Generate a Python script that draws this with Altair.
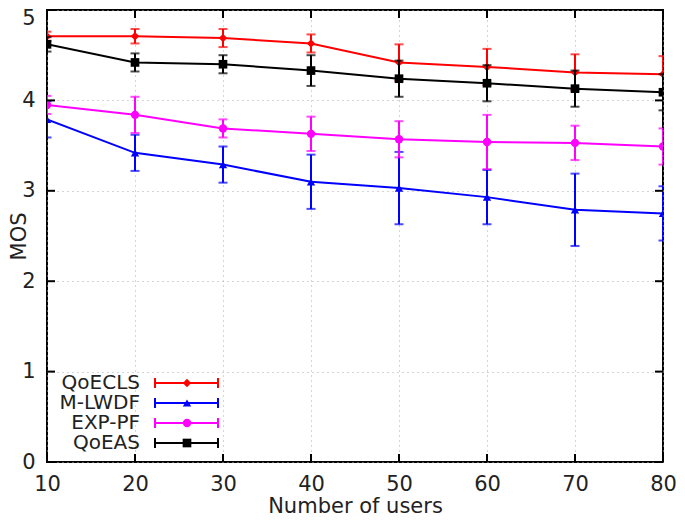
import altair as alt
import pandas as pd

users = [10, 20, 30, 40, 50, 60, 70, 80]
series_names = ["QoECLS", "M-LWDF", "EXP-PF", "QoEAS"]
qoecls = [4.71, 4.71, 4.69, 4.63, 4.42, 4.37, 4.31, 4.29]
qoecls_err = [0.05, 0.08, 0.10, 0.10, 0.20, 0.20, 0.20, 0.20]
mlwdf = [3.79, 3.42, 3.29, 3.10, 3.03, 2.93, 2.79, 2.75]
mlwdf_err = [0.20, 0.20, 0.20, 0.30, 0.40, 0.30, 0.40, 0.30]
exppf = [3.95, 3.84, 3.69, 3.63, 3.57, 3.54, 3.53, 3.49]
exppf_err = [0.10, 0.20, 0.10, 0.19, 0.20, 0.30, 0.19, 0.20]
qoeas = [4.62, 4.42, 4.40, 4.33, 4.24, 4.19, 4.13, 4.09]
qoeas_err = [0.08, 0.10, 0.10, 0.17, 0.20, 0.20, 0.20, 0.20]
x_ticks = [10, 20, 30, 40, 50, 60, 70, 80]
y_ticks = [0, 1, 2, 3, 4, 5]

colors = ["#ff0000", "#0000ff", "#ff00ff", "#000000"]
shapes = ["diamond", "triangle-up", "circle", "square"]
sizes = [70, 70, 70, 75]

W, H = 616, 452
FONT = "DejaVu Sans"
FS = 21

rows = []
for name, vals, errs in [("QoECLS", qoecls, qoecls_err), ("M-LWDF", mlwdf, mlwdf_err),
                         ("EXP-PF", exppf, exppf_err), ("QoEAS", qoeas, qoeas_err)]:
    for u, v, e in zip(users, vals, errs):
        rows.append({"users": u, "mos": v, "lo": v - e, "hi": v + e, "series": name})
df = pd.DataFrame(rows)

xs = alt.Scale(domain=[10, 80], nice=False, zero=False)
ys = alt.Scale(domain=[0, 5], nice=False)
color = alt.Color("series:N", scale=alt.Scale(domain=series_names, range=colors), legend=None)

xaxis = alt.Axis(values=x_ticks, title="Number of users", grid=True, gridColor="#aaaaaa",
                 gridDash=[1, 4], gridWidth=1, tickSize=0, domain=False, labelPadding=11,
                 titlePadding=1, labelFontSize=FS, titleFontSize=FS, labelFont=FONT,
                 titleFont=FONT, titleFontWeight="normal", labelColor="#222", titleColor="#222",
                 labelFlush=False, labelOverlap=False)
yaxis = alt.Axis(values=y_ticks, title="MOS", grid=True, gridColor="#aaaaaa",
                 gridDash=[1, 4], gridWidth=1, tickSize=0, domain=False, labelPadding=12,
                 labelFontSize=FS, titleFontSize=FS, labelFont=FONT,
                 titleFont=FONT, titleFontWeight="normal", labelColor="#222", titleColor="#222",
                 labelFlush=False, labelOverlap=False,
                 labelOffset={"condition": {"test": "datum.value == 5", "value": 8}, "value": 0},
                 titleX=-28, titleBaseline="middle")

X = lambda f: alt.X(f, scale=xs, axis=xaxis)
Y = lambda f: alt.Y(f, scale=ys, axis=yaxis)

base = alt.Chart(df)

layers = []
for i, name in enumerate(series_names):
    sub = base.transform_filter(alt.datum.series == name)
    err = sub.mark_errorbar(ticks=alt.MarkConfig(size=9, strokeWidth=2), clip=True,
                            thickness=2).encode(
        x=X("users:Q"), y=Y("lo:Q"), y2="hi:Q", color=color)
    line = sub.mark_line(strokeWidth=2, clip=True).encode(
        x=X("users:Q"), y=Y("mos:Q"), color=color)
    pts = sub.mark_point(filled=True, opacity=1, shape=shapes[i], size=sizes[i], clip=True).encode(
        x=X("users:Q"), y=Y("mos:Q"), color=color)
    layers += [err, line, pts]

# inward tick marks (gnuplot style) on all four sides
tdf_x = pd.DataFrame({"t": x_ticks})
tdf_y = pd.DataFrame({"t": y_ticks})
for y0, y1 in [(H, H - 8), (0, 8)]:
    layers.append(alt.Chart(tdf_x).mark_rule(color="black", strokeWidth=2).encode(
        x=X("t:Q"), y=alt.value(y0), y2=alt.value(y1)))
for x0, x1 in [(0, 8), (W, W - 8)]:
    layers.append(alt.Chart(tdf_y).mark_rule(color="black", strokeWidth=2).encode(
        y=Y("t:Q"), x=alt.value(x0), x2=alt.value(x1)))

# legend (inside, bottom-left)
for i, name in enumerate(series_names):
    ld = pd.DataFrame({"s": [name]})
    yy = 373 + 20 * i
    c = colors[i]
    layers.append(alt.Chart(ld).mark_text(align="right", baseline="middle", fontSize=20,
                                          font=FONT, color="#222").encode(
        x=alt.value(93), y=alt.value(yy), text="s:N"))
    layers.append(alt.Chart(ld).mark_rule(color=c, strokeWidth=2).encode(
        x=alt.value(108), x2=alt.value(171), y=alt.value(yy)))
    for xc in (108, 171):
        layers.append(alt.Chart(ld).mark_rule(color=c, strokeWidth=2).encode(
            x=alt.value(xc), y=alt.value(yy - 5), y2=alt.value(yy + 5)))
    layers.append(alt.Chart(ld).mark_point(filled=True, opacity=1, shape=shapes[i],
                                           size=sizes[i], color=c).encode(
        x=alt.value(140), y=alt.value(yy)))

chart = alt.layer(*layers).properties(
    width=W, height=H,
    background="white",
    autosize=alt.AutoSizeParams(type="none"),
    padding={"left": 39, "top": 2, "right": 14, "bottom": 55},
).configure_view(stroke="black", strokeWidth=2)

chart.save("out.html", embed_options={"renderer": "svg", "actions": False})
